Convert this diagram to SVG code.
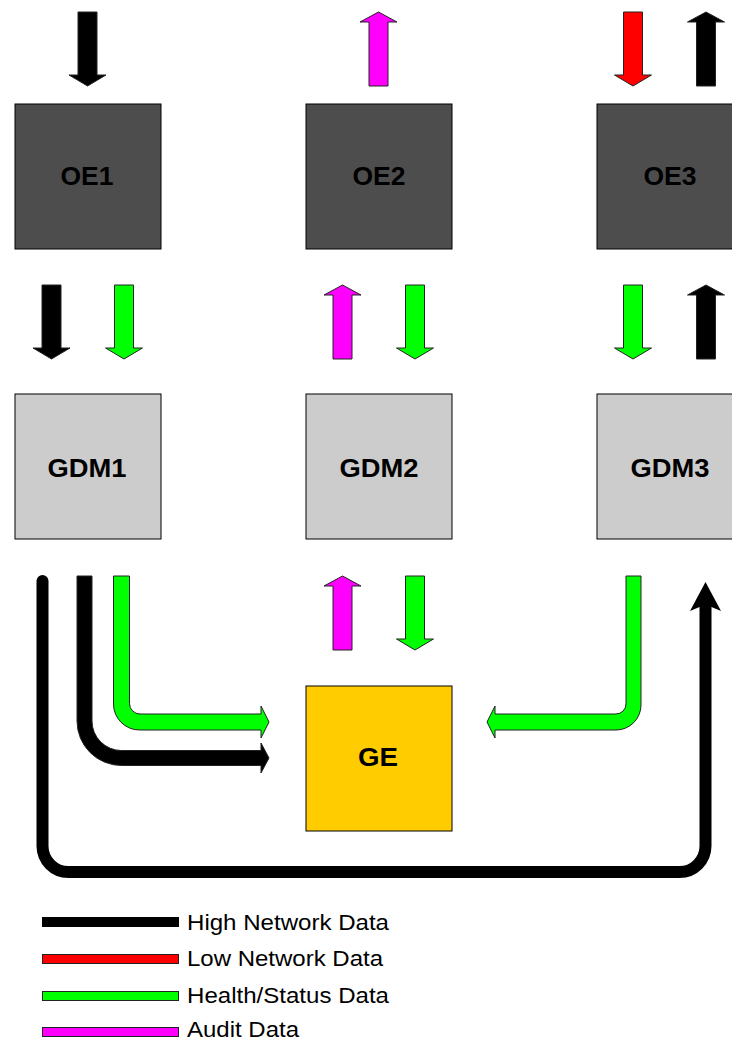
<svg xmlns="http://www.w3.org/2000/svg" width="732" height="1040" viewBox="0 0 732 1040">
  <style>
    .box { stroke: #000; stroke-width: 1; }
    .oe { fill: #4d4d4d; }
    .gdm { fill: #cccccc; }
    .ge { fill: #ffcc00; }
    .lbl { font-family: "Liberation Sans", Arial, sans-serif; font-weight: bold; font-size: 25px; fill: #000; text-anchor: middle; }
    .leg { font-family: "Liberation Sans", Arial, sans-serif; font-size: 22px; fill: #000; }
    .arw { stroke: #222; stroke-width: 1; stroke-linejoin: miter; }
    .hi { fill: #000; }
    .lo { fill: #ff0000; }
    .hs { fill: #00ff00; }
    .au { fill: #ff00ff; }
  </style>
  <defs>
    <!-- block arrows, 74 px long, origin at the centre of the tail end -->
    <path id="down" d="M -9.5 0 H 9.5 V 63 H 18.5 L 0 74 L -18.5 63 H -9.5 Z"/>
    <path id="up" d="M -9.5 74 H 9.5 V 10 H 18.5 L 0 0 L -18.5 10 H -9.5 Z"/>
  </defs>

  <!-- nodes -->
  <g id="OE1"><rect class="box oe" x="15" y="104" width="146" height="145"/><text class="lbl" x="87" y="185" textLength="53" lengthAdjust="spacingAndGlyphs">OE1</text></g>
  <g id="OE2"><rect class="box oe" x="306" y="104" width="146" height="145"/><text class="lbl" x="379" y="185" textLength="53" lengthAdjust="spacingAndGlyphs">OE2</text></g>
  <g id="OE3"><rect class="box oe" x="597" y="104" width="146" height="145"/><text class="lbl" x="670" y="185" textLength="53" lengthAdjust="spacingAndGlyphs">OE3</text></g>
  <g id="GDM1"><rect class="box gdm" x="15" y="394" width="146" height="145"/><text class="lbl" x="87" y="477" textLength="79" lengthAdjust="spacingAndGlyphs">GDM1</text></g>
  <g id="GDM2"><rect class="box gdm" x="306" y="394" width="146" height="145"/><text class="lbl" x="379" y="477" textLength="79" lengthAdjust="spacingAndGlyphs">GDM2</text></g>
  <g id="GDM3"><rect class="box gdm" x="597" y="394" width="146" height="145"/><text class="lbl" x="670" y="477" textLength="79" lengthAdjust="spacingAndGlyphs">GDM3</text></g>
  <g id="GE"><rect class="box ge" x="306" y="686" width="146" height="145"/><text class="lbl" x="378" y="766" textLength="40" lengthAdjust="spacingAndGlyphs">GE</text></g>

  <!-- connectors -->
  <g id="connectors">
    <!-- into / out of the OE row -->
    <use href="#down" class="arw hi" x="87.5" y="12"/>
    <use href="#up" class="arw au" x="378.5" y="12"/>
    <use href="#down" class="arw lo" x="633" y="12"/>
    <use href="#up" class="arw hi" x="706" y="12"/>

    <!-- OE to GDM -->
    <use href="#down" class="arw hi" x="51.5" y="285"/>
    <use href="#down" class="arw hs" x="124" y="285"/>
    <use href="#up" class="arw au" x="342.5" y="285"/>
    <use href="#down" class="arw hs" x="415" y="285"/>
    <use href="#down" class="arw hs" x="633" y="285"/>
    <use href="#up" class="arw hi" x="706" y="285"/>

    <!-- GDM2 to GE -->
    <use href="#up" class="arw au" x="342.5" y="576"/>
    <use href="#down" class="arw hs" x="415" y="576"/>

    <!-- GDM1 health/status bend into GE -->
    <path class="arw hs" d="M 113.5 576 V 704 A 26 26 0 0 0 139.5 730 H 261 V 738 L 269 722 L 261 706 V 714 H 140 A 10.5 10.5 0 0 1 129.5 703.5 V 576 Z"/>
    <!-- GDM1 high network bend into GE -->
    <path class="arw hi" d="M 77 576 V 721 A 44.5 44.5 0 0 0 121.5 765.5 H 261 V 773 L 269 758 L 261 743 V 750.5 H 121.5 A 29.5 29.5 0 0 1 92 721 V 576 Z"/>
    <!-- GDM3 health/status bend into GE -->
    <path class="arw hs" d="M 641 576 V 705 A 25 25 0 0 1 616 730 H 495 V 738 L 487 722 L 495 706 V 714 H 616 A 10 10 0 0 0 626 704 V 576 Z"/>
    <!-- GDM1 high network loop round to GDM3 -->
    <path d="M 42.5 581 V 846 A 26 26 0 0 0 68.5 872 H 679.5 A 26 26 0 0 0 705.5 846 V 606" fill="none" stroke="#000" stroke-width="12" stroke-linecap="round"/>
    <path class="hi" d="M 705.5 582 L 721 611 L 711.5 607 L 699.5 607 L 690 611 Z"/>
  </g>

  <!-- legend -->
  <g id="legend">
    <rect x="42" y="917" width="137" height="10" fill="#000"/>
    <rect class="arw lo" x="42.5" y="954.5" width="136" height="9"/>
    <rect class="arw hs" x="42.5" y="991.5" width="136" height="9"/>
    <rect class="arw au" x="42.5" y="1027.5" width="136" height="9"/>
    <text class="leg" x="187" y="930" textLength="202" lengthAdjust="spacingAndGlyphs">High Network Data</text>
    <text class="leg" x="187" y="966" textLength="196" lengthAdjust="spacingAndGlyphs">Low Network Data</text>
    <text class="leg" x="187" y="1003" textLength="202" lengthAdjust="spacingAndGlyphs">Health/Status Data</text>
    <text class="leg" x="187" y="1037" textLength="112" lengthAdjust="spacingAndGlyphs">Audit Data</text>
  </g>
</svg>
